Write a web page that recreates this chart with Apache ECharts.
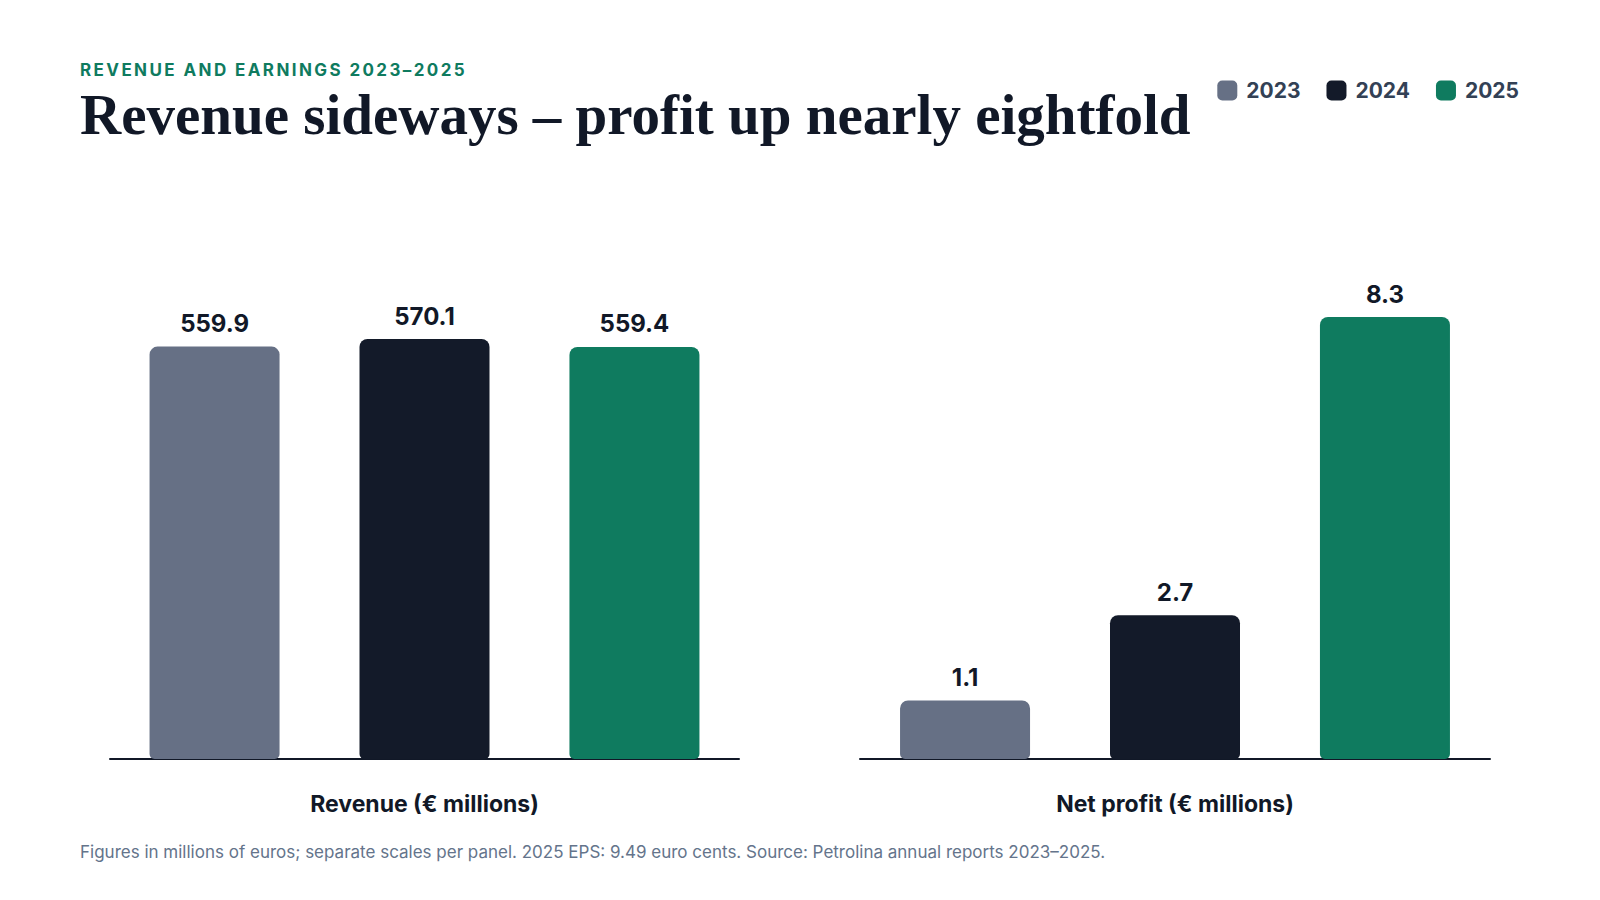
<!DOCTYPE html>
<html>
<head>
<meta charset="utf-8">
<script src="https://cdn.jsdelivr.net/npm/echarts@6/dist/echarts.min.js"></script>
<style>
  html, body { margin: 0; padding: 0; background: #fff; }
  #main { width: 1600px; height: 900px; }
  /* kicker line is spaced out, echarts has no letterSpacing */
  #main text[fill="#0f7b5f"] { letter-spacing: 2.4px; }
</style>
</head>
<body>
<div id="main"></div>
<script>
var years = ['2023', '2024', '2025'];
var yearColors = ['#667085', '#131a29', '#0f7b5f'];
var panelNames = ['Revenue (€ millions)', 'Net profit (€ millions)'];
var revenue = [559.9, 570.1, 559.4];
var netProfit = [1.1, 2.7, 8.3];
var panelMax = [600, 8.3];

var kicker = 'REVENUE AND EARNINGS 2023–2025';
var headline = 'Revenue sideways – profit up nearly eightfold';
var footnote = 'Figures in millions of euros; separate scales per panel. 2025 EPS: 9.49 euro cents. Source: Petrolina annual reports 2023–2025.';

var sans = 'Inter, "Noto Sans", sans-serif';
var ink = '#111827';

function panelAxis(idx) {
  return {
    gridIndex: idx,
    type: 'category',
    data: [panelNames[idx]],
    axisLine: { lineStyle: { color: ink, width: 2 } },
    axisTick: { show: false },
    axisLabel: { show: false },
    name: panelNames[idx],
    nameLocation: 'middle',
    nameGap: 33,
    nameTextStyle: { fontFamily: sans, fontSize: 23, fontWeight: 700, color: ink }
  };
}

var series = [];
[revenue, netProfit].forEach(function (vals, p) {
  years.forEach(function (y, i) {
    series.push({
      type: 'bar',
      name: y,
      xAxisIndex: p,
      yAxisIndex: p,
      data: [vals[i]],
      barWidth: 130,
      barGap: '61.5%',
      itemStyle: { color: yearColors[i], borderRadius: [8, 8, 5, 5] },
      label: {
        show: true,
        position: 'top',
        distance: 11,
        fontFamily: sans,
        fontSize: 24,
        fontWeight: 700,
        color: ink
      }
    });
  });
});

var chart = echarts.init(document.getElementById('main'), null, { renderer: 'svg' });
chart.setOption({
  backgroundColor: '#fff',
  animation: false,
  title: [
    {
      text: kicker, left: 80, top: 61, padding: 0,
      textStyle: { fontFamily: sans, fontSize: 17, fontWeight: 700, color: '#0f7b5f' }
    },
    {
      text: headline, left: 80, top: 86, padding: 0,
      textStyle: { fontFamily: '"Liberation Serif", serif', fontSize: 57, fontWeight: 700, color: ink }
    },
    {
      text: footnote, left: 80, top: 843, padding: 0,
      textStyle: { fontFamily: sans, fontSize: 17, fontWeight: 400, color: '#64748b' }
    }
  ],
  legend: {
    data: years,
    right: 81,
    top: 80,
    padding: 0,
    itemWidth: 20,
    itemHeight: 20,
    itemGap: 26,
    icon: 'roundRect',
    selectedMode: false,
    textStyle: { fontFamily: sans, fontSize: 21, fontWeight: 700, color: '#334155', padding: [0, 0, 0, 4] }
  },
  grid: [
    { left: 110, width: 629, top: 317, height: 442 },
    { left: 860, width: 630, top: 317, height: 442 }
  ],
  xAxis: [panelAxis(0), panelAxis(1)],
  yAxis: [0, 1].map(function (p) {
    return { gridIndex: p, type: 'value', min: 0, max: panelMax[p], show: false, splitLine: { show: false } };
  }),
  series: series
});
</script>
</body>
</html>
